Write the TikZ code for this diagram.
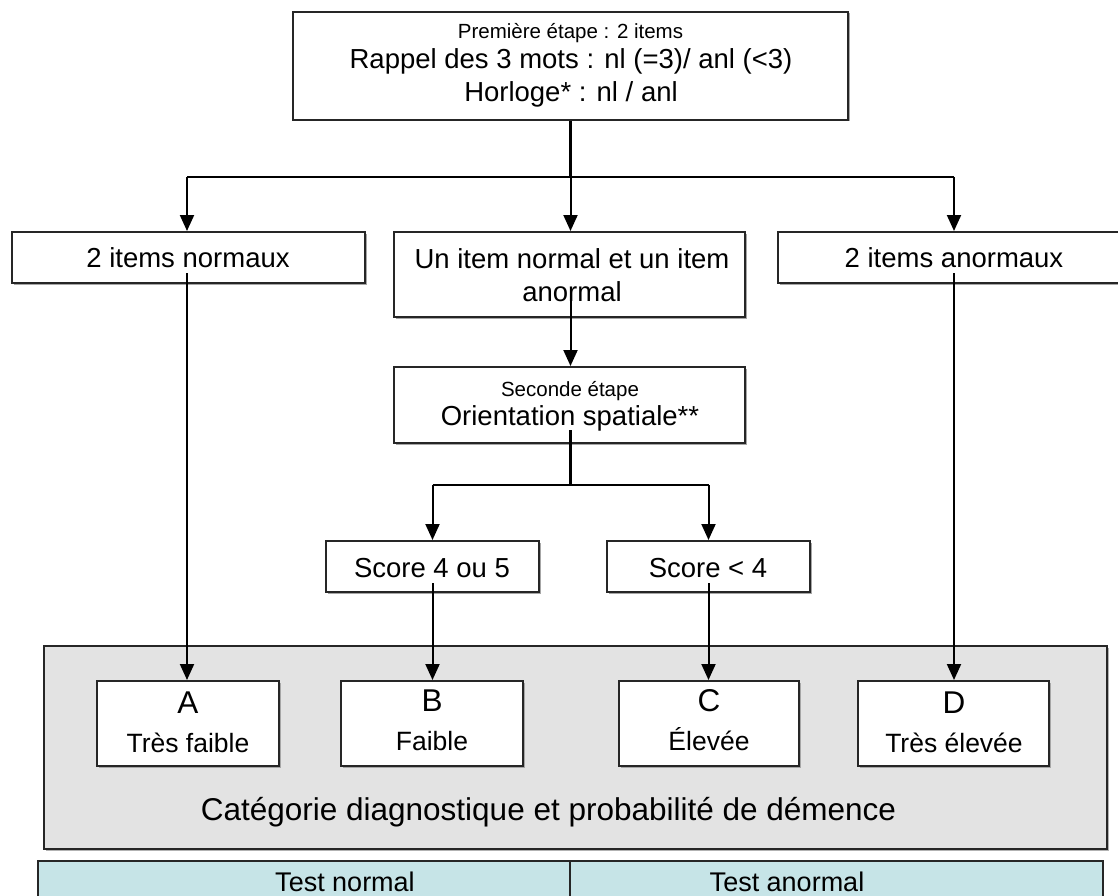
\documentclass[tikz,border=0pt]{standalone}
\usepackage{fontspec}
\setmainfont{Liberation Sans}
\usetikzlibrary{arrows.meta,shadows}
\definecolor{grayfill}{HTML}{E3E3E3}
\definecolor{cyanfill}{HTML}{C6E4E7}
\definecolor{edge}{HTML}{262626}
\tikzset{
  box/.style={draw=edge, line width=2pt, fill=white, inner sep=0pt,
    general shadow={fill=black!35, shadow xshift=1.5pt, shadow yshift=-1.5pt}},
  panel/.style={draw=edge, line width=2pt, inner sep=0pt},
  conn/.style={line width=2pt, -{Triangle[width=14pt,length=16pt]}},
  trunk/.style={line width=3pt},
  bus/.style={line width=2.2pt},
  txt/.style={anchor=base, inner sep=0pt, text=black},
  main/.style={txt, font=\fontsize{27.5}{33}\selectfont},
  small/.style={txt, font=\fontsize{20.5}{24}\selectfont},
  big/.style={txt, font=\fontsize{31.5}{38}\selectfont},
  cat/.style={txt, font=\fontsize{26.5}{32}\selectfont},
}
\begin{document}
\begin{tikzpicture}[x=1pt,y=-1pt]
\useasboundingbox (0,0) rectangle (1118,896);

% bottom bar
\node[panel, fill=cyanfill, minimum width=1065pt, minimum height=60pt] (bar) at (570.5,891) {};
\draw[line width=2pt, draw=edge] (570,861) coordinate (divtop) -- (570,896) coordinate (divbot);
\node[txt, font=\fontsize{27}{33}\selectfont] (tn) at (345,891.5) {Test normal};
\node[txt, font=\fontsize{27}{33}\selectfont] (ta) at (787,891.5) {Test anormal};

% grey panel
\node[panel, fill=grayfill, minimum width=1063pt, minimum height=203pt,
  general shadow={fill=black!30, shadow xshift=1.5pt, shadow yshift=-1.5pt}] (catpanel) at (575.5,747.5) {};
\node[big] (catlbl) at (548.5,820) {Catégorie diagnostique et probabilité de démence};

% top box
\node[box, minimum width=555pt, minimum height=108pt] (top) at (570.5,66) {};
\node[small] (t1) at (570.5,39) {Première étape : 2 items};
\node[main] (t2) at (571,69) {Rappel des 3 mots : nl (=3)/ anl (<3)};
\node[main] (t3) at (571,102) {Horloge* : nl / anl};

% second row
\node[box, minimum width=353pt, minimum height=51pt] (left) at (188.5,257.5) {};
\node[main] (lefttxt) at (188,267) {2 items normaux};
\node[box, minimum width=351pt, minimum height=85pt] (mid) at (569.5,274.5) {};
\node[main] (mid1) at (572,268) {Un item normal et un item};
\node[main] (mid2) at (572,301) {anormal};
\node[box, minimum width=353pt, minimum height=51pt] (right) at (954.5,257.5) {};
\node[main] (righttxt) at (954,267) {2 items anormaux};

% second step
\node[box, minimum width=351pt, minimum height=76pt] (sec) at (569.5,405) {};
\node[small] (sec1) at (570,396) {Seconde étape};
\node[main] (sec2) at (570,425) {Orientation spatiale**};

% scores
\node[box, minimum width=213pt, minimum height=51pt] (s45) at (432.5,566.5) {};
\node[main] (s45txt) at (432,577) {Score 4 ou 5};
\node[box, minimum width=203pt, minimum height=51pt] (s4) at (708.5,566.5) {};
\node[main] (s4txt) at (708,577) {Score < 4};

% categories
\node[box, minimum width=182pt, minimum height=85pt] (A) at (188,723.5) {};
\node[big] (Al) at (188,713) {A};
\node[cat] (Aw) at (188,752) {Très faible};
\node[box, minimum width=182pt, minimum height=85pt] (B) at (432,723.5) {};
\node[big] (Bl) at (432,711) {B};
\node[cat] (Bw) at (432,750) {Faible};
\node[box, minimum width=180pt, minimum height=85pt] (C) at (709,723.5) {};
\node[big] (Cl) at (709,711) {C};
\node[cat] (Cw) at (709,750) {Élevée};
\node[box, minimum width=191pt, minimum height=85pt] (D) at (953.5,723.5) {};
\node[big] (Dl) at (954,713) {D};
\node[cat] (Dw) at (954,752) {Très élevée};

% connectors
\coordinate (bl) at (187,177);
\coordinate (bm) at (570.5,177);
\coordinate (br) at (954,177);
\draw[trunk] (top.south) -- (bm);
\draw[bus] (bl) -- (br);
\draw[conn] (bl) -- (bl |- left.north);
\draw[conn] (bm) -- (bm |- mid.north);
\draw[conn] (br) -- (br |- right.north);

\coordinate (lsrc) at (187,273);
\coordinate (rsrc) at (954,273);
\coordinate (msrc) at (570.5,292);
\draw[conn] (lsrc) -- (lsrc |- A.north);
\draw[conn] (rsrc) -- (rsrc |- D.north);
\draw[conn] (msrc) -- (msrc |- sec.north);

\coordinate (ssrc) at (570.5,430);
\coordinate (sj) at (570.5,485);
\coordinate (sjl) at (432.5,485);
\coordinate (sjr) at (708.5,485);
\draw[trunk] (ssrc) -- (sj);
\draw[bus] (sjl) -- (sjr);
\draw[conn] (sjl) -- (sjl |- s45.north);
\draw[conn] (sjr) -- (sjr |- s4.north);

\coordinate (bsrc) at (432.5,583);
\coordinate (csrc) at (708.5,583);
\draw[conn] (bsrc) -- (bsrc |- B.north);
\draw[conn] (csrc) -- (csrc |- C.north);
\end{tikzpicture}
\end{document}
